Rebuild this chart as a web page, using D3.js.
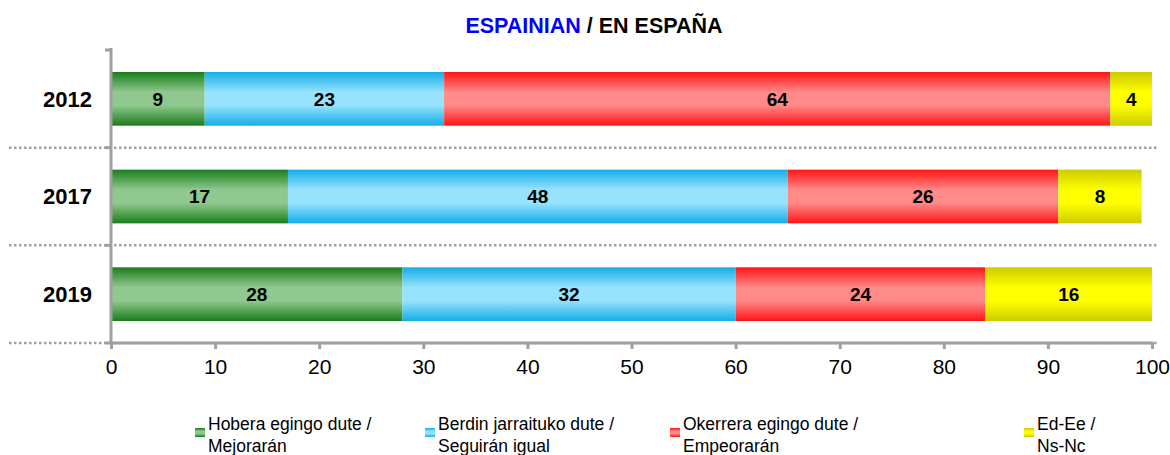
<!DOCTYPE html>
<html>
<head>
<meta charset="utf-8">
<script src="https://cdn.jsdelivr.net/npm/d3@7"></script>
<style>
  body { margin: 0; background: #fff; }
  svg { font-family: "Liberation Sans", Arial, sans-serif; }
</style>
</head>
<body>
<div id="chart"></div>
<script>
// data
const years = ['2012', '2017', '2019'];
const seriesNames = ['Hobera egingo dute / Mejorarán', 'Berdin jarraituko dute / Seguirán igual', 'Okerrera egingo dute / Empeorarán', 'Ed-Ee / Ns-Nc'];
const legendLines = [
  ['Hobera egingo dute /', 'Mejorarán'],
  ['Berdin jarraituko dute /', 'Seguirán igual'],
  ['Okerrera egingo dute /', 'Empeorarán'],
  ['Ed-Ee /', 'Ns-Nc']
];
const mejoraran = [9, 17, 28];
const seguiran = [23, 48, 32];
const empeoraran = [64, 26, 24];
const nsnc = [4, 8, 16];
const xTicks = [0, 10, 20, 30, 40, 50, 60, 70, 80, 90, 100];

// colours: [edge, centre]
const colors = [
  ['#1a7d1a', '#90c990'],
  ['#14ade8', '#97e3fd'],
  ['#ff1414', '#ff8a8a'],
  ['#cccc00', '#ffff00']
];

const width = 1170, height = 455;
const margin = { top: 50, left: 111, right: 18, bottom: 112 };
const gray = '#a0a0a0';

const svg = d3.select('#chart').append('svg')
  .attr('width', width)
  .attr('height', height);

const defs = svg.append('defs');
colors.forEach((c, i) => {
  const g = defs.append('linearGradient')
    .attr('id', 'grad' + i)
    .attr('x1', 0).attr('y1', 0).attr('x2', 0).attr('y2', 1);
  g.append('stop').attr('offset', 0).attr('stop-color', c[0]);
  g.append('stop').attr('offset', 0.38).attr('stop-color', c[1]);
  g.append('stop').attr('offset', 0.62).attr('stop-color', c[1]);
  g.append('stop').attr('offset', 1).attr('stop-color', c[0]);
});

const x = d3.scaleLinear()
  .domain([0, 100])
  .range([margin.left, width - margin.right]);

const y = d3.scaleBand()
  .domain(years)
  .range([margin.top, height - margin.bottom])
  .paddingInner(0.45)
  .paddingOuter(0.225);

const rows = years.map((yr, i) => ({
  year: yr,
  values: [mejoraran[i], seguiran[i], empeoraran[i], nsnc[i]]
}));

const stacked = d3.stack()
  .keys([0, 1, 2, 3])
  .value((d, k) => d.values[k])(rows);

// title
svg.append('text')
  .attr('x', 594)
  .attr('y', 33)
  .attr('text-anchor', 'middle')
  .style('font-weight', 'bold')
  .style('font-size', '21.5px')
  .call(t => {
    t.append('tspan').attr('fill', '#0000ff').text('ESPAINIAN');
    t.append('tspan').attr('fill', '#000').text(' / EN ESPAÑA');
  });

// dotted separators between categories
const step = y.step();
const bounds = years.map((d, i) => y(d) - y.paddingInner() * step / 2 + step);
svg.append('g').selectAll('line')
  .data(bounds)
  .enter().append('line')
  .attr('x1', 9)
  .attr('x2', 1157)
  .attr('y1', d => d)
  .attr('y2', d => d)
  .attr('stroke', gray)
  .attr('stroke-width', 2.5)
  .attr('stroke-dasharray', '2.5,2.5');

// bars
const layer = svg.append('g').selectAll('g')
  .data(stacked)
  .enter().append('g')
  .attr('fill', (d, i) => `url(#grad${i})`);

layer.selectAll('rect')
  .data(d => d)
  .enter().append('rect')
  .attr('x', d => x(d[0]))
  .attr('width', d => x(d[1]) - x(d[0]))
  .attr('y', d => y(d.data.year))
  .attr('height', y.bandwidth());

layer.selectAll('text')
  .data(d => d)
  .enter().append('text')
  .attr('x', d => (x(d[0]) + x(d[1])) / 2)
  .attr('y', d => y(d.data.year) + y.bandwidth() / 2)
  .attr('dy', '0.36em')
  .attr('text-anchor', 'middle')
  .attr('fill', '#000')
  .style('font-weight', 'bold')
  .style('font-size', '19px')
  .text(d => d[1] - d[0]);

// y axis
const yTop = margin.top, yBottom = height - margin.bottom;
svg.append('line')
  .attr('x1', x(0)).attr('x2', x(0))
  .attr('y1', yTop - 2).attr('y2', yBottom)
  .attr('stroke', gray).attr('stroke-width', 3);
svg.append('g').selectAll('line')
  .data([yTop].concat(bounds))
  .enter().append('line')
  .attr('x1', x(0) - 6).attr('x2', x(0))
  .attr('y1', d => d).attr('y2', d => d)
  .attr('stroke', gray).attr('stroke-width', 3);

svg.append('g').selectAll('text')
  .data(years)
  .enter().append('text')
  .attr('x', 92)
  .attr('y', d => y(d) + y.bandwidth() / 2)
  .attr('dy', '0.36em')
  .attr('text-anchor', 'end')
  .style('font-weight', 'bold')
  .style('font-size', '22px')
  .text(d => d);

// x axis
const xAxis = svg.append('g')
  .attr('transform', `translate(0,${yBottom})`)
  .call(d3.axisBottom(x).tickValues(xTicks).tickSize(6).tickPadding(10));
xAxis.select('.domain')
  .attr('d', `M${x(0) - 1.5},0H${x(100) + 1.5}`)
  .attr('stroke', gray).attr('stroke-width', 3);
xAxis.selectAll('.tick line').attr('stroke', gray).attr('stroke-width', 3);
xAxis.selectAll('.tick text')
  .attr('fill', '#000')
  .style('font-family', '"Liberation Sans", Arial, sans-serif')
  .style('font-size', '21px');

// legend
const legendX = [195, 425, 670, 1024];
const legend = svg.append('g').selectAll('g')
  .data(seriesNames)
  .enter().append('g')
  .attr('transform', (d, i) => `translate(${legendX[i]},428)`);
legend.append('rect')
  .attr('width', 10).attr('height', 9)
  .attr('fill', (d, i) => `url(#grad${i})`);
legend.append('text')
  .attr('x', 13)
  .attr('y', 2)
  .style('font-size', '17.5px')
  .attr('fill', '#000')
  .each(function(d, i) {
    const t = d3.select(this);
    legendLines[i].forEach((ln, j) => {
      t.append('tspan').attr('x', 13).attr('dy', j === 0 ? 0 : 22).text(ln);
    });
  });
</script>
</body>
</html>
